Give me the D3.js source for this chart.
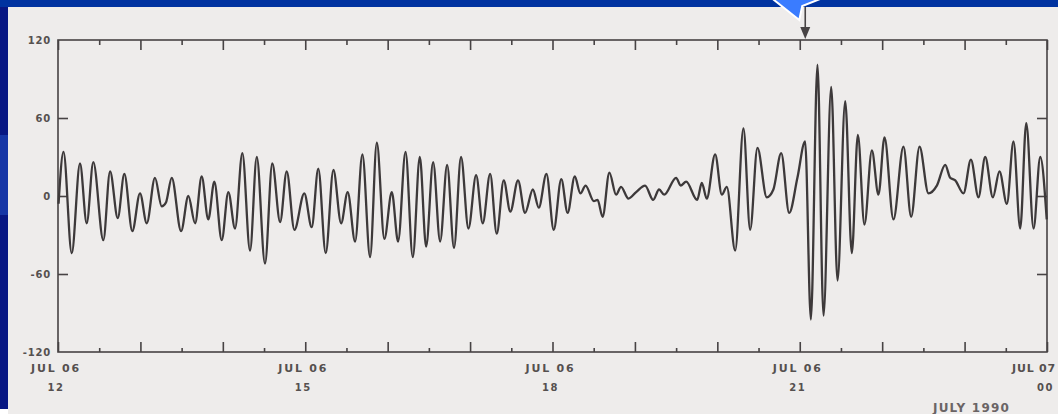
<!DOCTYPE html>
<html>
<head>
<meta charset="utf-8">
<script src="https://cdn.jsdelivr.net/npm/d3@7"></script>
<style>
  html, body { margin: 0; padding: 0; background: #0033a0; overflow: hidden; }
  svg { display: block; }
</style>
</head>
<body>
<svg id="chart" width="1058" height="414"></svg>
<script>
// Magnetometer trace, 6 July 1990, 12:00 UT to 00:00 UT (turning points of the record)
const minutesAfterNoon = [
  0.4, 4.0, 10.0, 16.0, 20.9, 25.7, 33.0, 37.9, 43.5, 48.3,
  54.1, 59.7, 64.6, 70.6, 75.5, 78.6, 82.8, 89.6, 94.9, 99.8,
  104.6, 109.4, 113.8, 119.2, 124.0, 128.9, 134.2, 139.8, 144.7, 150.7,
  156.0, 161.7, 166.5, 172.1, 179.3, 184.7, 189.5, 194.9, 200.5, 206.1,
  210.9, 216.3, 221.6, 227.2, 232.1, 237.6, 243.0, 247.6, 253.0, 258.3,
  263.4, 268.0, 273.1, 278.2, 283.3, 288.3, 293.4, 298.8, 304.4, 309.2,
  314.6, 319.4, 324.5, 329.3, 334.9, 340.0, 345.7, 350.0, 355.6, 360.9,
  366.4, 371.0, 376.2, 380.3, 384.1, 390.1, 392.8, 396.5, 401.4, 406.3,
  409.9, 415.3, 420.9, 427.4, 433.3, 437.6, 441.3, 450.0, 453.3, 457.3,
  465.3, 468.7, 472.3, 478.4, 483.3, 486.9, 493.0, 499.0, 503.9, 509.2,
  516.0, 520.8, 526.5, 532.3, 538.3, 543.9, 548.1, 552.9, 557.3, 562.9,
  567.5, 573.1, 577.9, 582.3, 587.1, 592.5, 597.3, 601.7, 608.2, 615.5,
  621.1, 627.2, 633.7, 639.8, 645.9, 649.5, 653.2, 659.2, 664.6, 670.1,
  675.0, 680.6, 685.4, 690.8, 695.6, 700.5, 704.9, 710.2, 715.1, 719.8
];
const fieldValues = [
  -6, 34, -44, 25, -21, 26, -34, 19, -17, 17,
  -27, 2, -21, 14, -8, -5, 14, -27, 0, -21,
  15, -18, 11, -34, 3, -25, 33, -42, 30, -52,
  25, -20, 19, -26, 2, -24, 21, -44, 20, -21,
  3, -35, 32, -47, 41, -33, 3, -35, 34, -47,
  30, -39, 26, -35, 24, -40, 30, -25, 16, -21,
  17, -29, 12, -12, 12, -13, 5, -9, 17, -26,
  13, -13, 15, 2, 8, -4, -3, -16, 18, 1,
  7, -2, 3, 8, -3, 5, 1, 14, 8, 11,
  -3, 10, -2, 32, 1, 7, -42, 52, -26, 37,
  -1, 5, 33, -13, 14, 42, -95, 101, -92, 84,
  -65, 73, -44, 47, -22, 35, 1, 45, -18, 38,
  -16, 38, 2, 8, 24, 14, 12, 2, 28, -1,
  30, -1, 19, -6, 42, -25, 56, -25, 30, -18
];

const yTickValues = [120, 60, 0, -60, -120];
const yInnerTicks = [60, 0, -60];
const xLabelMinutes = [0, 180, 360, 540, 720];
const xLabelDates = ["JUL 06", "JUL 06", "JUL 06", "JUL 06", "JUL 07"];
const xLabelHours = ["12", "15", "18", "21", "00"];
const hourTicks = d3.range(0, 721, 60);
const halfHourTicks = d3.range(30, 720, 60);
const eventMinute = 544;
const footerText = "JULY 1990";

const ink = "#474344";
const paper = "#eeeceb";
const labelInk = "#55504f";

const svg = d3.select("#chart");

// slide background and scanned sheet
svg.append("rect").attr("x", 0).attr("y", 0).attr("width", 1058).attr("height", 414).attr("fill", "#0033a0");
svg.append("rect").attr("x", 0).attr("y", 7).attr("width", 8).attr("height", 407).attr("fill", "#081783");
svg.append("rect").attr("x", 0).attr("y", 135).attr("width", 8).attr("height", 80).attr("fill", "#1636a6");
svg.append("rect").attr("x", 0).attr("y", 409).attr("width", 28).attr("height", 5).attr("fill", "#ffffff");
svg.append("rect").attr("x", 8).attr("y", 7).attr("width", 1050).attr("height", 407).attr("fill", paper);

const plotLeft = 58, plotRight = 1047, plotTop = 40, plotBottom = 352;
const x = d3.scaleLinear().domain([0, 720]).range([plotLeft, plotRight]);
const y = d3.scaleLinear().domain([-120, 120]).range([plotBottom, plotTop]);

const axisStyle = g => {
  g.select(".domain").remove();
  g.selectAll(".tick line").attr("stroke", ink).attr("stroke-width", 1.6);
  g.selectAll(".tick text").remove();
};

// top edge ticks (pointing down into the plot)
svg.append("g").attr("transform", `translate(0,${plotTop})`)
  .call(d3.axisBottom(x).tickValues(hourTicks).tickSize(10).tickFormat("")).call(axisStyle);
svg.append("g").attr("transform", `translate(0,${plotTop})`)
  .call(d3.axisBottom(x).tickValues(halfHourTicks).tickSize(5).tickFormat("")).call(axisStyle);
// bottom edge ticks (pointing up)
svg.append("g").attr("transform", `translate(0,${plotBottom})`)
  .call(d3.axisTop(x).tickValues(hourTicks).tickSize(10).tickFormat("")).call(axisStyle);
svg.append("g").attr("transform", `translate(0,${plotBottom})`)
  .call(d3.axisTop(x).tickValues(halfHourTicks).tickSize(4).tickFormat("")).call(axisStyle);
// side ticks
svg.append("g").attr("transform", `translate(${plotLeft},0)`)
  .call(d3.axisRight(y).tickValues(yInnerTicks).tickSize(10).tickFormat("")).call(axisStyle);
svg.append("g").attr("transform", `translate(${plotRight},0)`)
  .call(d3.axisLeft(y).tickValues(yInnerTicks).tickSize(10).tickFormat("")).call(axisStyle);

// frame
svg.append("rect")
  .attr("x", plotLeft).attr("y", plotTop).attr("width", plotRight - plotLeft).attr("height", plotBottom - plotTop)
  .attr("fill", "none").attr("stroke", ink).attr("stroke-width", 1.6);

const labelFont = "'DejaVu Sans', sans-serif";

// y labels
svg.append("g").selectAll("text").data(yTickValues).join("text")
  .attr("x", plotLeft - 7).attr("y", d => y(d)).attr("dy", "0.35em")
  .attr("text-anchor", "end")
  .attr("font-family", labelFont).attr("font-size", 10).attr("font-weight", "bold")
  .attr("letter-spacing", 0.8)
  .attr("fill", labelInk)
  .text(d => d < 0 ? "-" + Math.abs(d) : d);

// x labels; the last one is kept inside the sheet's right edge
const lastIdx = xLabelMinutes.length - 1;
const xl = svg.append("g").selectAll("g").data(xLabelMinutes).join("g")
  .attr("transform", d => `translate(${x(d) - 2},0)`);
xl.append("text").attr("y", 372)
  .attr("text-anchor", (d, i) => i === lastIdx ? "end" : "middle")
  .attr("x", (d, i) => i === lastIdx ? 1056 - (x(d) - 2) : 0)
  .attr("font-family", labelFont).attr("font-size", 11).attr("font-weight", "bold")
  .attr("letter-spacing", (d, i) => i === lastIdx ? 0.8 : 1.8).attr("fill", labelInk)
  .text((d, i) => xLabelDates[i]);
xl.append("text").attr("y", 391)
  .attr("text-anchor", (d, i) => i === lastIdx ? "end" : "middle")
  .attr("x", (d, i) => i === lastIdx ? 1054 - (x(d) - 2) : 0)
  .attr("font-family", labelFont).attr("font-size", 10).attr("font-weight", "bold")
  .attr("letter-spacing", 1.5).attr("fill", labelInk)
  .text((d, i) => xLabelHours[i]);

// footer
svg.append("text").attr("x", 933).attr("y", 412)
  .attr("font-family", labelFont).attr("font-size", 12).attr("font-weight", "bold")
  .attr("letter-spacing", 1.2).attr("fill", "#6a6465")
  .text(footerText);

// trace
const points = minutesAfterNoon.map((m, i) => [m, fieldValues[i]]);
svg.append("path")
  .datum(points)
  .attr("fill", "none")
  .attr("stroke", "#3d393a")
  .attr("stroke-width", 2.3)
  .attr("stroke-linejoin", "round")
  .attr("d", d3.line().x(d => x(d[0])).y(d => y(d[1])).curve(d3.curveMonotoneX));

// event arrow at the top edge
const ex = x(eventMinute);
svg.append("line").attr("x1", ex).attr("x2", ex).attr("y1", 7).attr("y2", 32)
  .attr("stroke", ink).attr("stroke-width", 1.6);
svg.append("path")
  .attr("d", `M${ex - 5},${plotTop - 13} L${ex + 5},${plotTop - 13} L${ex},${plotTop - 1} Z`)
  .attr("fill", ink);

// callout pointer from the slide
svg.append("path")
  .attr("d", `M${ex - 35},-3 L${ex - 6},20 L${ex - 3},6 L${ex + 20},-3 Z`)
  .attr("fill", "#3a7cff").attr("stroke", "#ffffff").attr("stroke-width", 2)
  .attr("stroke-linejoin", "miter");
</script>
</body>
</html>
